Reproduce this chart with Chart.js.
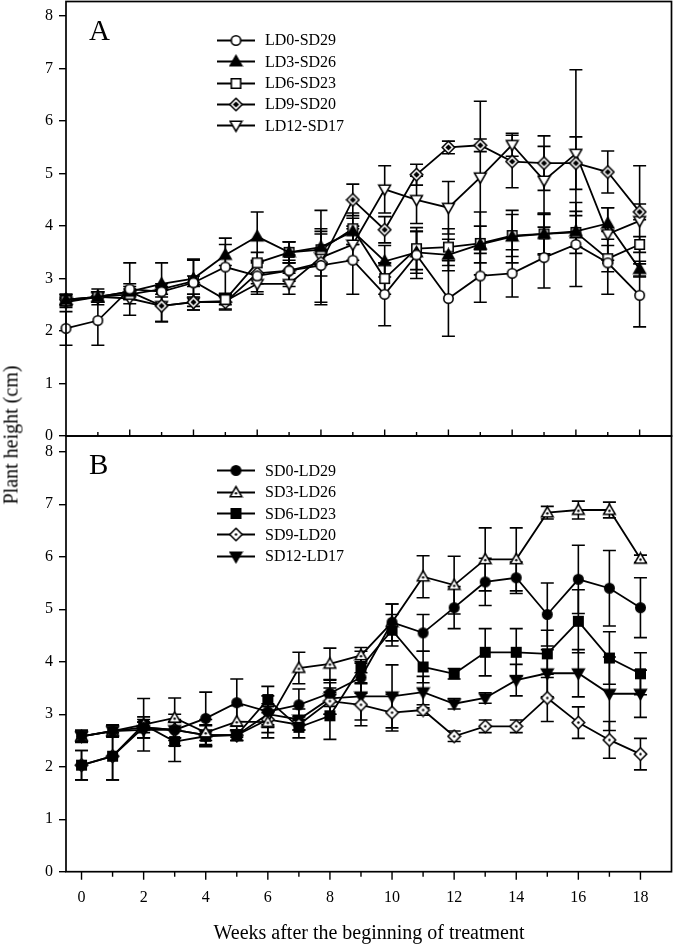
<!DOCTYPE html>
<html>
<head>
<meta charset="utf-8">
<title>Plant height</title>
<script src="https://cdn.jsdelivr.net/npm/chart.js"></script>
<style>
  body { margin: 0; background: #fff; font-family: "Liberation Serif", "Times New Roman", serif; color: #000; }
  #page { position: relative; width: 673px; height: 944px; overflow: hidden; }
  canvas.chart { position: absolute; left: 0; }
  .tag { position: absolute; left: 89px; font-size: 29px; line-height: 1; }
  .legend { position: absolute; left: 217px; font-size: 16px; }
  .legend .row { height: 21.3px; display: flex; align-items: center; white-space: nowrap; }
  .legend canvas { margin-right: 10px; }
  #ytitle { position: absolute; left: 11px; top: 435px; font-size: 20px; white-space: nowrap;
            transform: translate(-50%, -50%) rotate(-90deg); }
  #xtitle { position: absolute; left: 369px; top: 932px; font-size: 20px; white-space: nowrap;
            transform: translate(-50%, -50%); }
</style>
</head>
<body>
<div id="page">
  <canvas id="chartA" class="chart" width="673" height="440" style="top:0"></canvas>
  <canvas id="chartB" class="chart" width="673" height="514" style="top:430px"></canvas>
  <div class="tag" style="top:16px">A</div>
  <div class="tag" style="top:450px">B</div>
  <div class="legend" id="legendA" style="top:29.8px"></div>
  <div class="legend" id="legendB" style="top:460.3px"></div>
  <div id="ytitle">Plant height (cm)</div>
  <div id="xtitle">Weeks after the beginning of treatment</div>
</div>

<script>
// weeks after the beginning of treatment
const weeks = [0,1,2,3,4,5,6,7,8,9,10,11,12,13,14,15,16,17,18];
const yTicks = [0,1,2,3,4,5,6,7,8];
const xTicks = [0,2,4,6,8,10,12,14,16,18];

// panel A
const namesA = ['LD0-SD29', 'LD3-SD26', 'LD6-SD23', 'LD9-SD20', 'LD12-SD17'];
const ld0   = [2.05,2.20,2.80,2.75,2.92,3.22,3.05,3.15,3.25,3.35,2.70,3.45,2.62,3.05,3.10,3.40,3.65,3.30,2.68];
const ld0E  = [0.32,0.47,0.50,0.10,0.45,0.55,0.30,0.30,0.70,0.65,0.60,0.45,0.72,0.50,0.45,0.58,0.80,0.60,0.60];
const ld3   = [2.60,2.65,2.75,2.90,3.00,3.45,3.80,3.50,3.60,3.90,3.33,3.50,3.45,3.65,3.80,3.85,3.90,4.05,3.18];
const ld3E  = [0.10,0.10,0.10,0.40,0.35,0.20,0.47,0.20,0.30,0.25,0.30,0.40,0.30,0.35,0.50,0.40,0.30,0.30,0.15];
const ld6   = [2.58,2.65,2.70,2.80,2.95,2.60,3.30,3.50,3.55,3.95,3.00,3.57,3.60,3.67,3.82,3.85,3.88,3.38,3.65];
const ld6E  = [0.10,0.10,0.10,0.10,0.10,0.10,0.20,0.20,0.30,0.30,0.30,0.40,0.35,0.60,0.40,0.38,0.40,0.25,0.15];
const ld9   = [2.60,2.65,2.75,2.48,2.55,2.55,3.10,3.15,3.30,4.50,3.93,4.98,5.50,5.54,5.23,5.20,5.20,5.03,4.27];
const ld9E  = [0.10,0.15,0.15,0.30,0.15,0.15,0.20,0.20,0.25,0.30,0.25,0.20,0.12,0.12,0.50,0.52,0.50,0.40,0.15];
const ld12  = [2.55,2.65,2.62,2.48,2.55,2.57,2.90,2.90,3.40,3.65,4.70,4.50,4.35,4.93,5.55,4.87,5.38,3.85,4.10];
const ld12E = [0.10,0.10,0.10,0.30,0.15,0.15,0.20,0.20,0.90,0.30,0.45,0.45,0.50,1.45,0.22,0.65,1.60,0.50,1.05];

// panel B
const namesB = ['SD0-LD29', 'SD3-LD26', 'SD6-LD23', 'SD9-LD20', 'SD12-LD17'];
const sd0   = [2.58,2.68,2.75,2.70,2.92,3.22,3.05,3.18,3.40,3.70,4.75,4.55,5.03,5.52,5.60,4.90,5.57,5.40,5.03];
const sd0E  = [0.12,0.12,0.10,0.30,0.50,0.45,0.30,0.30,0.25,0.30,0.35,0.35,0.40,0.45,0.30,0.60,0.65,0.72,0.57];
const sd3   = [2.58,2.68,2.80,2.93,2.65,2.86,2.85,3.88,3.96,4.12,4.75,5.62,5.46,5.95,5.95,6.84,6.89,6.89,5.96];
const sd3E  = [0.10,0.10,0.10,0.38,0.25,0.30,0.30,0.30,0.30,0.15,0.35,0.40,0.55,0.60,0.60,0.12,0.17,0.15,0.07];
const sd6   = [2.03,2.20,2.80,2.48,2.58,2.60,3.28,2.75,2.97,3.90,4.60,3.90,3.77,4.18,4.18,4.15,4.77,4.07,3.77];
const sd6E  = [0.28,0.45,0.50,0.38,0.20,0.10,0.25,0.20,0.45,0.30,0.30,0.30,0.10,0.45,0.45,0.45,0.60,0.50,0.40];
const sd9   = [2.03,2.20,2.75,2.70,2.60,2.60,2.90,2.80,3.25,3.18,3.03,3.08,2.58,2.77,2.77,3.31,2.84,2.51,2.24];
const sd9E  = [0.28,0.45,0.20,0.20,0.20,0.10,0.25,0.10,0.25,0.40,0.35,0.10,0.10,0.12,0.12,0.45,0.30,0.35,0.30];
const sd12  = [2.58,2.68,2.70,2.70,2.60,2.60,3.00,2.90,3.30,3.34,3.34,3.42,3.20,3.31,3.65,3.78,3.78,3.39,3.39];
const sd12E = [0.10,0.10,0.15,0.15,0.10,0.10,0.20,0.20,0.30,0.45,0.60,0.30,0.10,0.10,0.30,0.45,0.45,0.70,0.45];

const FONT = { family: "'Liberation Serif', 'Times New Roman', serif", size: 16 };

// marker images (shape + fill)
function marker(shape, fill) {
  const c = document.createElement('canvas');
  c.width = 15; c.height = 15;
  const g = c.getContext('2d');
  const m = 7.5;
  const path = (s, k) => {
    g.beginPath();
    if (s === 'circle') g.arc(m, m, 4.7 * k, 0, Math.PI * 2);
    if (s === 'square') g.rect(m - 4.7 * k, m - 4.7 * k, 9.4 * k, 9.4 * k);
    if (s === 'tri') { g.moveTo(m, m - 5.8 * k); g.lineTo(m + 5.8 * k, m + 4.2 * k); g.lineTo(m - 5.8 * k, m + 4.2 * k); g.closePath(); }
    if (s === 'inv') { g.moveTo(m, m + 5.8 * k); g.lineTo(m + 5.8 * k, m - 4.2 * k); g.lineTo(m - 5.8 * k, m - 4.2 * k); g.closePath(); }
    if (s === 'diamond') { g.moveTo(m, m - 6.2 * k); g.lineTo(m + 6.2 * k, m); g.lineTo(m, m + 6.2 * k); g.lineTo(m - 6.2 * k, m); g.closePath(); }
  };
  g.lineWidth = 1.6;
  g.strokeStyle = '#000';
  path(shape, 1);
  g.fillStyle = fill === 'filled' ? '#000' : '#fff';
  g.fill();
  g.stroke();
  if (fill === 'inner') {
    path(shape, 0.5);
    g.fillStyle = '#000';
    g.fill();
  }
  if (fill === 'dot') {
    g.beginPath();
    g.arc(m, shape === 'tri' ? m + 0.8 : m, 1.2, 0, Math.PI * 2);
    g.fillStyle = '#000';
    g.fill();
  }
  return c;
}

const markersA = [marker('circle','open'), marker('tri','filled'), marker('square','open'), marker('diamond','inner'), marker('inv','open')];
const markersB = [marker('circle','filled'), marker('tri','dot'), marker('square','filled'), marker('diamond','dot'), marker('inv','filled')];

function legend(id, names, markers) {
  const box = document.getElementById(id);
  names.forEach((n, i) => {
    const row = document.createElement('div');
    row.className = 'row';
    const c = document.createElement('canvas');
    c.width = 38; c.height = 15;
    const g = c.getContext('2d');
    g.strokeStyle = '#000'; g.lineWidth = 1.8;
    g.beginPath(); g.moveTo(0, 7.5); g.lineTo(38, 7.5); g.stroke();
    g.drawImage(markers[i], 19 - 7.5, 0);
    row.appendChild(c);
    row.appendChild(document.createTextNode(n));
    box.appendChild(row);
  });
}
legend('legendA', namesA, markersA);
legend('legendB', namesB, markersB);

// error bars, frame and x tick marks
const framePlugin = {
  id: 'frame',
  beforeDatasetsDraw(chart) {
    const ctx = chart.ctx, xs = chart.scales.x, ys = chart.scales.y;
    ctx.save();
    ctx.strokeStyle = '#000';
    ctx.lineWidth = 1.6;
    chart.data.datasets.forEach(ds => {
      ds.data.forEach((p, i) => {
        const e = ds.err[i];
        const x = xs.getPixelForValue(p.x);
        const y1 = ys.getPixelForValue(p.y + e);
        const y2 = ys.getPixelForValue(p.y - e);
        ctx.beginPath();
        ctx.moveTo(x, y1); ctx.lineTo(x, y2);
        ctx.moveTo(x - 6.5, y1); ctx.lineTo(x + 6.5, y1);
        ctx.moveTo(x - 6.5, y2); ctx.lineTo(x + 6.5, y2);
        ctx.stroke();
      });
    });
    ctx.restore();
  },
  afterDraw(chart, args, opts) {
    const ctx = chart.ctx, a = chart.chartArea, xs = chart.scales.x;
    ctx.save();
    ctx.strokeStyle = '#000';
    ctx.lineWidth = 1.7;
    ctx.strokeRect(a.left, a.top, a.right - a.left, a.bottom - a.top);
    ctx.lineWidth = 1.4;
    ctx.beginPath();
    weeks.forEach(w => {
      if (opts.inward && w === 0) return;
      const x = xs.getPixelForValue(w);
      const len = w % 2 === 0 ? opts.major : opts.minor;
      ctx.moveTo(x, a.bottom);
      ctx.lineTo(x, opts.inward ? a.bottom - len : a.bottom + len);
    });
    ctx.stroke();
    ctx.restore();
  }
};

function datasets(series, errs, names, markers) {
  return series.map((vals, i) => ({
    label: names[i],
    data: weeks.map((w, j) => ({ x: w, y: vals[j] })),
    err: errs[i],
    borderColor: '#000',
    borderWidth: 1.8,
    pointStyle: markers[i],
    pointRadius: 5,
    tension: 0,
    fill: false,
    clip: false
  }));
}

function yScale(max) {
  return {
    min: 0, max: max,
    afterFit: s => { s.width = 66; s.paddingTop = 0; s.paddingBottom = 0; },
    afterBuildTicks: s => { s.ticks = yTicks.map(v => ({ value: v })); },
    ticks: { font: FONT, color: '#000', padding: 6 },
    grid: { drawOnChartArea: false, color: '#000', tickLength: 7, lineWidth: 1.4 },
    border: { display: false }
  };
}

new Chart(document.getElementById('chartA'), {
  type: 'line',
  data: { datasets: datasets([ld0, ld3, ld6, ld9, ld12], [ld0E, ld3E, ld6E, ld9E, ld12E], namesA, markersA) },
  options: {
    responsive: false,
    animation: false,
    layout: { autoPadding: false, padding: { left: 0, top: 1.5, right: 1.5, bottom: 4 } },
    plugins: { legend: { display: false }, tooltip: { enabled: false },
               frame: { inward: true, major: 6.5, minor: 4 } },
    scales: {
      x: { type: 'linear', min: 0, max: 19, display: false },
      y: yScale(8.28)
    }
  },
  plugins: [framePlugin]
});

new Chart(document.getElementById('chartB'), {
  type: 'line',
  data: { datasets: datasets([sd0, sd3, sd6, sd9, sd12], [sd0E, sd3E, sd6E, sd9E, sd12E], namesB, markersB) },
  options: {
    responsive: false,
    animation: false,
    layout: { autoPadding: false, padding: { left: 0, top: 6, right: 1.5, bottom: 0 } },
    plugins: { legend: { display: false }, tooltip: { enabled: false },
               frame: { inward: false, major: 8, minor: 5 } },
    scales: {
      x: {
        type: 'linear', min: -0.5, max: 19,
        afterFit: s => { s.height = 72.3; s.paddingLeft = 0; s.paddingRight = 0; },
        afterBuildTicks: s => { s.ticks = xTicks.map(v => ({ value: v })); },
        ticks: { font: FONT, color: '#000', padding: 16, maxRotation: 0, autoSkip: false },
        grid: { drawOnChartArea: false, drawTicks: false },
        border: { display: false }
      },
      y: yScale(8.3)
    }
  },
  plugins: [framePlugin]
});
</script>
</body>
</html>
